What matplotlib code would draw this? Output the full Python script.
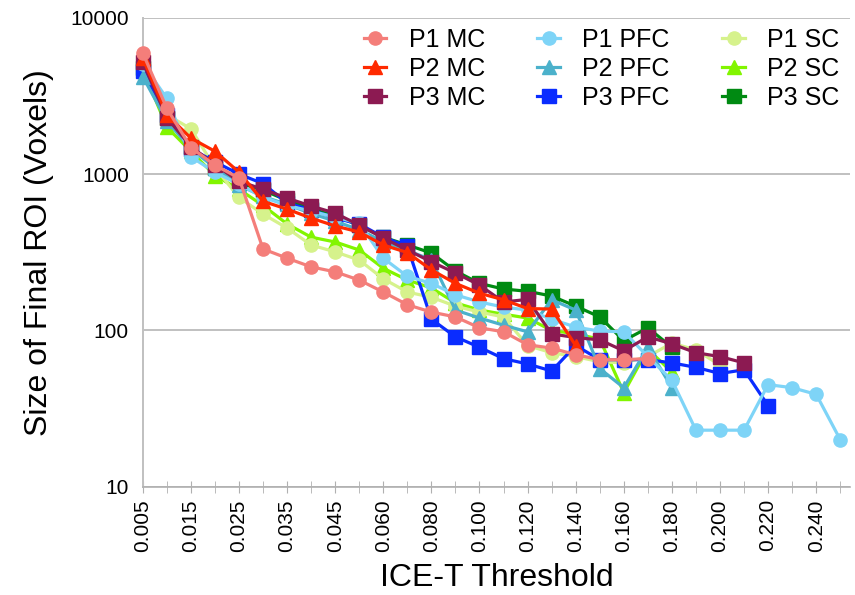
import numpy as np
import matplotlib
matplotlib.use("Agg")
import matplotlib.pyplot as plt

plt.rcParams['font.family'] = ['Liberation Sans', 'DejaVu Sans']

thresholds = ["0.005", "0.010", "0.015", "0.020", "0.025", "0.030", "0.035", "0.040",
              "0.045", "0.050", "0.060", "0.070", "0.080", "0.090", "0.100", "0.110",
              "0.120", "0.130", "0.140", "0.150", "0.160", "0.170", "0.180", "0.190",
              "0.200", "0.210", "0.220", "0.230", "0.240", "0.250"]

p1_mc = [5950, 2640, 1480, 1140, 945, 332, 290, 255, 237, 210, 176, 146, 131, 122, 104,
         98, 81, 77, 70, 65, 65, 66]
p2_mc = [5500, 2400, 1700, 1400, 1030, 670, 597, 523, 466, 426, 352, 315, 244, 200, 173,
         157, 138, 137, 80]
p3_mc = [5200, 2300, 1500, 1150, 900, 800, 702, 625, 563, 472, 390, 327, 275, 233, 195,
         152, 158, 95, 90, 87, 74, 91, 82, 72, 68, 62]
p1_pfc = [5100, 3050, 1290, 1030, 860, 713, 630, 580, 530, 486, 290, 222, 200, 169, 152,
          141, 135, 118, 105, 99, 98, 68, 48, 23, 23, 23, 45, 43, 39, 20]
p2_pfc = [4200, 2200, 1450, 1100, 850, 720, 640, 560, 500, 440, 370, 325, 283, 135, 120,
          108, 98, 157, 135, 57, 43, 78, 43]
p3_pfc = [4600, 2400, 1450, 1200, 1000, 870, 653, 590, 523, 480, 395, 345, 118, 91, 78,
          66, 61, 55, 80, 65, 65, 65, 62, 58, 53, 56, 33]
p1_sc = [5000, 2400, 1950, 1100, 710, 555, 452, 352, 318, 282, 214, 176, 163, 143, 131,
         122, 80, 72, 68, 63, 62, 68, 83, 75, 60]
p2_sc = [4700, 2000, 1400, 980, 800, 630, 480, 395, 368, 327, 250, 210, 187, 150, 135,
         127, 120, 100, 95, 88, 40, 76, 54]
p3_sc = [4800, 2300, 1500, 1100, 880, 790, 680, 600, 540, 470, 395, 352, 313, 240, 200,
         184, 178, 166, 143, 122, 86, 104, 78]

names = ["P1 MC", "P2 MC", "P3 MC", "P1 PFC", "P2 PFC", "P3 PFC", "P1 SC", "P2 SC", "P3 SC"]
series = [p1_mc, p2_mc, p3_mc, p1_pfc, p2_pfc, p3_pfc, p1_sc, p2_sc, p3_sc]
colors = ["#F47E7A", "#FF2A00", "#8C1A52", "#7ED4F7", "#4BB1CB", "#0A2CFF",
          "#D6F28C", "#82F500", "#008A12"]
markers = ["o", "^", "s", "o", "^", "s", "o", "^", "s"]


def pad(values, n):
    out = np.full(n, np.nan)
    out[:len(values)] = values
    return out


fig = plt.figure(figsize=(8.55, 5.95), dpi=100)
ax = fig.add_axes([0.167, 0.182, 0.827, 0.788])

x = np.arange(len(thresholds))
lines = []
for i in range(len(series)):
    line, = ax.plot(x, pad(series[i], len(thresholds)), color=colors[i], marker=markers[i],
                    markersize=9.5, linewidth=2.3, label=names[i], zorder=20 - i,
                    clip_on=False)
    lines.append(line)

ax.set_yscale("log")
ax.set_ylim(10, 10000)
ax.set_xlim(0, 29.4)
ax.set_yticks([10, 100, 1000, 10000])
ax.set_yticklabels(["10", "100", "1000", "10000"])
ax.yaxis.set_minor_locator(matplotlib.ticker.NullLocator())
ax.grid(axis="y", color="#C0C0C0", linewidth=1.4)
ax.set_axisbelow(True)

ax.set_xticks(x[::2])
ax.set_xticklabels(thresholds[::2], rotation=90)
ax.set_xticks(x, minor=True)
ax.tick_params(axis="x", which="both", direction="inout", length=8, color="#B0B0B0",
               labelsize=15, pad=5)
ax.tick_params(axis="y", length=0, labelsize=15, pad=10)

for s in ["top", "right"]:
    ax.spines[s].set_visible(False)
ax.spines["left"].set_color("#C0C0C0")
ax.spines["bottom"].set_color("#B0B0B0")
ax.spines["left"].set_linewidth(1.4)
ax.spines["bottom"].set_linewidth(1.2)

ax.set_xlabel("ICE-T Threshold", fontsize=23, labelpad=8)
ax.set_ylabel("Size of Final ROI (Voxels)", fontsize=23, labelpad=12)

ax.legend(handles=lines, ncol=3, loc="upper right", bbox_to_anchor=(1.0, 1.0),
          frameon=False, fontsize=18, handlelength=0.9, handletextpad=0.9,
          columnspacing=2.1, labelspacing=0.2, borderaxespad=0.0)

fig.savefig("out.png", dpi=100)
